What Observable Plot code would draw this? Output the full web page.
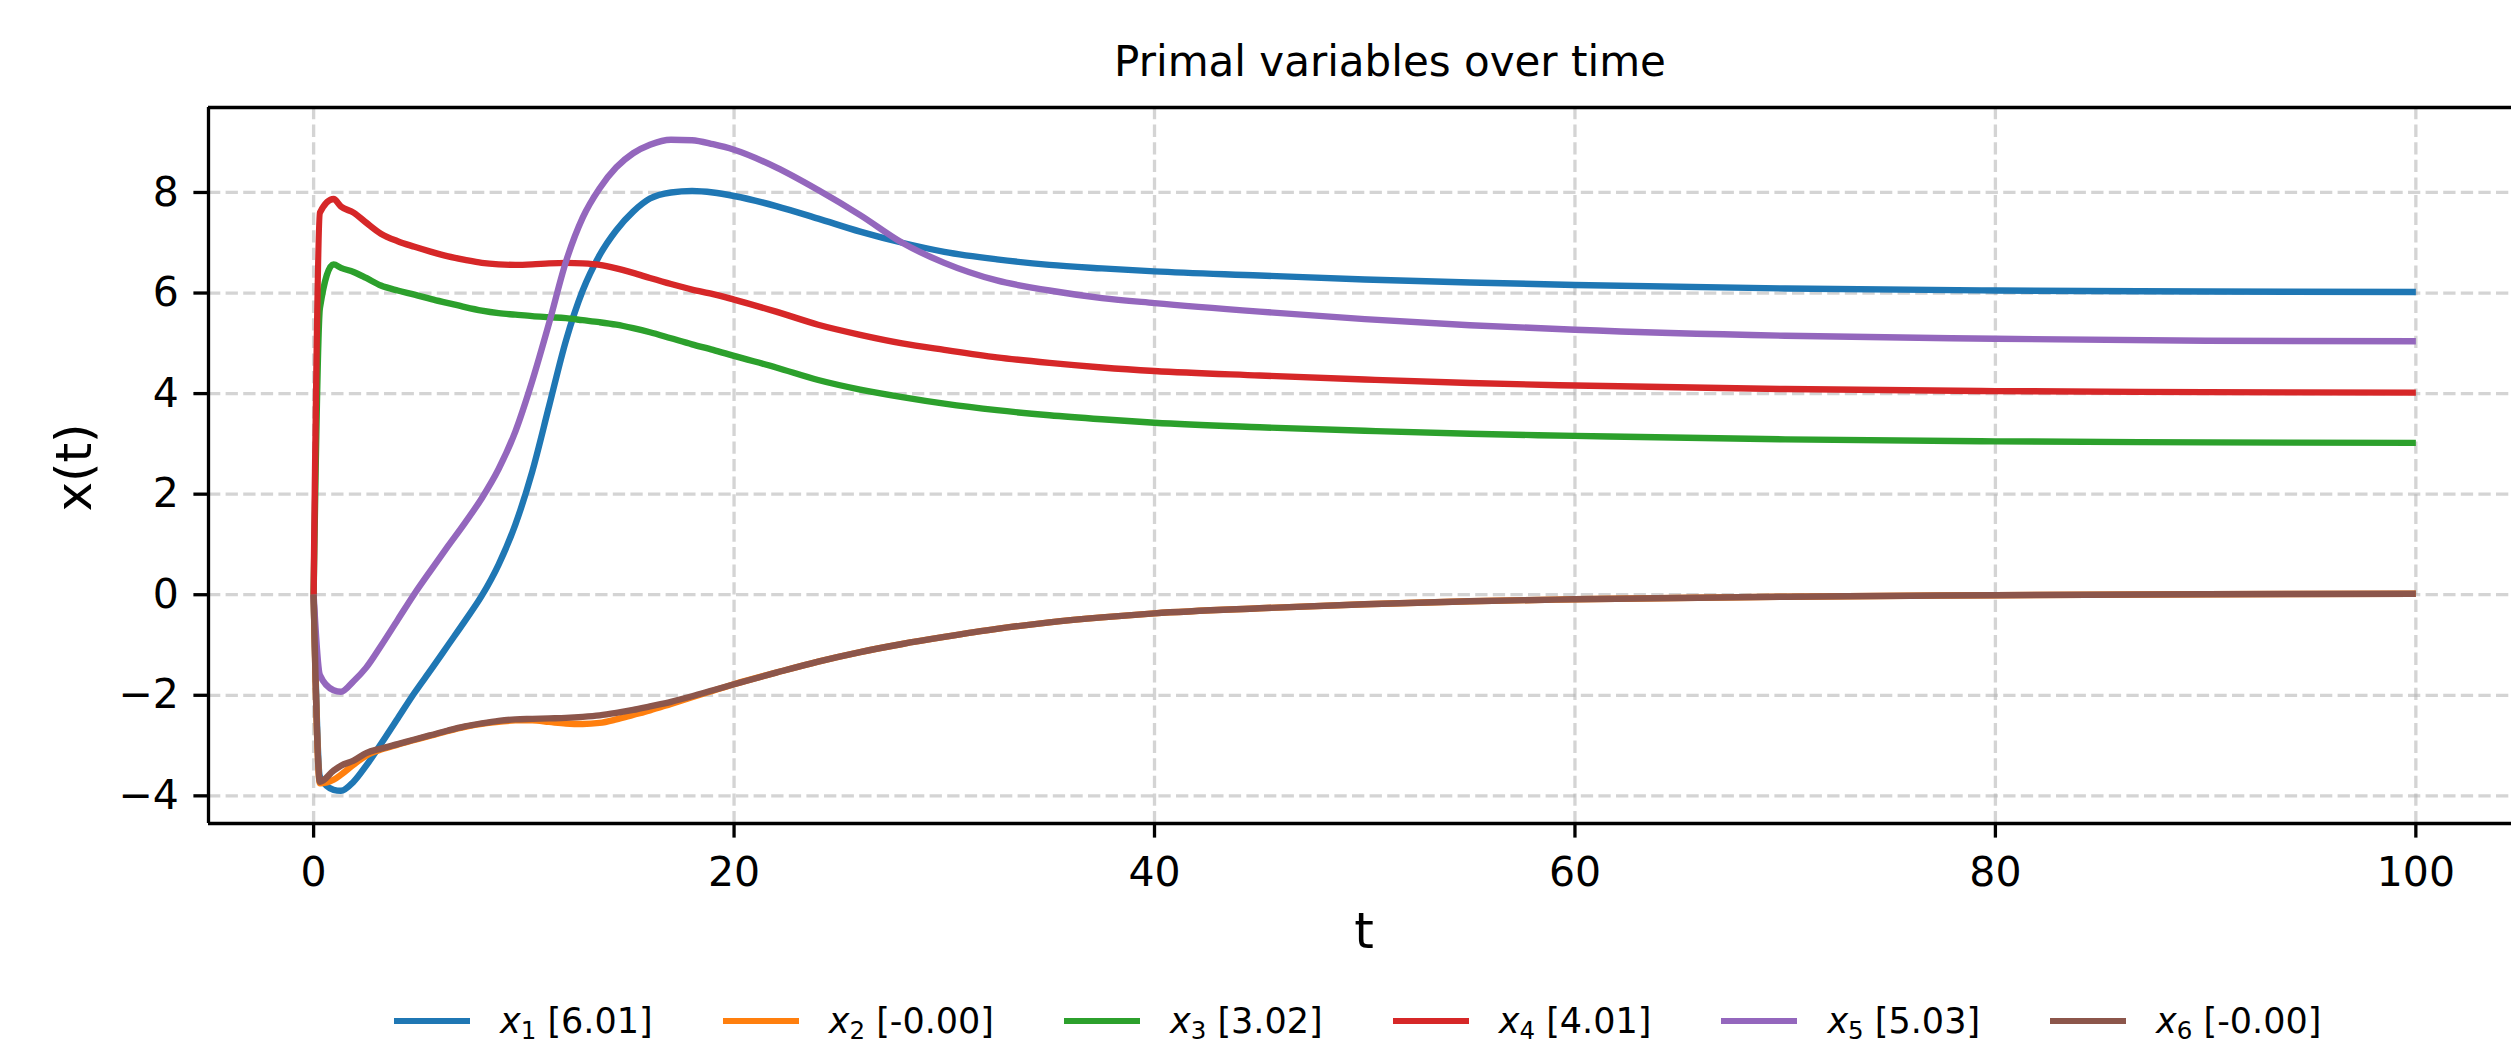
<!DOCTYPE html>
<html>
<head>
<meta charset="utf-8">
<script src="https://cdn.jsdelivr.net/npm/d3@7"></script>
<script src="https://cdn.jsdelivr.net/npm/@observablehq/plot@0.6"></script>
<style>
html, body { margin: 0; padding: 0; background: #fff; }
body { width: 2511px; height: 1052px; overflow: hidden; font-family: "DejaVu Sans", sans-serif; color: #000; }
#title { position: relative; height: 90px; }
#title span { position: absolute; left: 1390px; top: 41px; transform: translateX(-50%); font-size: 42px; line-height: 42px; white-space: nowrap; }
#chart svg { display: block; }
#legend { position: relative; height: 92px; }
#legend .row { position: absolute; left: 394px; top: 36px; height: 50px; display: flex; align-items: center; white-space: nowrap; }
#legend .item { display: flex; align-items: center; margin-right: 70px; }
#legend .handle { width: 76px; height: 6.5px; margin-right: 30px; }
#legend .lab { font-size: 35px; line-height: 1; }
#legend .lab i { font-style: italic; }
#legend .lab sub { font-size: 70%; vertical-align: baseline; position: relative; top: 0.25em; line-height: 0; }
</style>
</head>
<body>
<div id="title"><span>Primal variables over time</span></div>
<div id="chart"></div>
<div id="legend"><div class="row"></div></div>
<script>
// ---- data ----
const times = [0, 0.3, 0.95, 1.3, 1.9, 2.5, 3.2, 4.0, 4.8, 5.6, 6.4, 7.2, 8.0, 8.8, 9.6, 10.4, 11.2, 12.0, 12.8, 13.6, 14.4, 15.2, 16.0, 17, 18, 19, 20, 22, 24, 26, 28, 30, 32.5, 35, 37.5, 40, 45, 50, 55, 60, 70, 80, 90, 100];
const x1 = [0, -3.62, -3.88, -3.9, -3.72, -3.4, -2.97, -2.46, -1.95, -1.48, -1.0, -0.52, -0.02, 0.6, 1.4, 2.45, 3.75, 5.05, 6.05, 6.75, 7.25, 7.62, 7.88, 8.0, 8.03, 8.0, 7.93, 7.73, 7.48, 7.22, 7.0, 6.82, 6.67, 6.56, 6.49, 6.43, 6.35, 6.27, 6.21, 6.16, 6.09, 6.05, 6.03, 6.02];
const x2 = [0, -3.75, -3.68, -3.58, -3.38, -3.2, -3.08, -2.98, -2.89, -2.8, -2.71, -2.63, -2.57, -2.53, -2.5, -2.5, -2.53, -2.56, -2.57, -2.55, -2.48, -2.39, -2.3, -2.17, -2.04, -1.91, -1.78, -1.55, -1.33, -1.14, -0.98, -0.84, -0.68, -0.55, -0.45, -0.37, -0.27, -0.19, -0.13, -0.09, -0.04, -0.01, 0.01, 0.02];
const x3 = [0, 5.7, 6.57, 6.5, 6.42, 6.3, 6.15, 6.05, 5.97, 5.88, 5.8, 5.72, 5.65, 5.6, 5.57, 5.54, 5.52, 5.5, 5.46, 5.42, 5.37, 5.3, 5.22, 5.1, 4.98, 4.87, 4.75, 4.52, 4.27, 4.08, 3.93, 3.8, 3.67, 3.57, 3.49, 3.42, 3.33, 3.26, 3.2, 3.16, 3.09, 3.05, 3.03, 3.02];
const x4 = [0, 7.6, 7.87, 7.72, 7.6, 7.4, 7.18, 7.03, 6.92, 6.82, 6.73, 6.66, 6.6, 6.57, 6.56, 6.57, 6.59, 6.6, 6.59, 6.56, 6.49, 6.4, 6.3, 6.18, 6.07, 5.98, 5.87, 5.63, 5.37, 5.17, 5.0, 4.87, 4.72, 4.61, 4.52, 4.45, 4.36, 4.28, 4.21, 4.16, 4.09, 4.05, 4.03, 4.02];
const x5 = [0, -1.6, -1.9, -1.93, -1.72, -1.45, -1.02, -0.5, 0.02, 0.5, 0.97, 1.43, 1.92, 2.5, 3.25, 4.25, 5.4, 6.62, 7.5, 8.08, 8.5, 8.78, 8.95, 9.05, 9.04, 8.96, 8.85, 8.5, 8.05, 7.55, 7.0, 6.6, 6.25, 6.05, 5.9, 5.8, 5.63, 5.48, 5.36, 5.27, 5.15, 5.09, 5.05, 5.04];
const x6 = [0, -3.72, -3.5, -3.4, -3.3, -3.15, -3.06, -2.97, -2.88, -2.79, -2.7, -2.62, -2.56, -2.51, -2.48, -2.47, -2.46, -2.45, -2.43, -2.4, -2.35, -2.29, -2.22, -2.13, -2.02, -1.9, -1.78, -1.55, -1.33, -1.14, -0.98, -0.84, -0.68, -0.55, -0.45, -0.37, -0.27, -0.19, -0.13, -0.09, -0.04, -0.01, 0.01, 0.02];

const seriesNames = ["x1", "x2", "x3", "x4", "x5", "x6"];
const seriesIndex = ["1", "2", "3", "4", "5", "6"];
const finalValues = ["6.01", "-0.00", "3.02", "4.01", "5.03", "-0.00"];
const seriesColors = ["#1f77b4", "#ff7f0e", "#2ca02c", "#d62728", "#9467bd", "#8c564b"];
const xTicks = [0, 20, 40, 60, 80, 100];
const yTicks = [-4, -2, 0, 2, 4, 6, 8];
const xDomain = [-5, 104.55];
const yDomain = [-4.55, 9.69];
const chartTitle = "Primal variables over time";
const xLabel = "t";
const yLabel = "x(t)";

// ---- tidy table ----
const seriesValues = [x1, x2, x3, x4, x5, x6];
const rows = [];
seriesValues.forEach((vals, i) => {
  vals.forEach((v, j) => rows.push({ series: seriesNames[i], t: times[j], v }));
});

document.querySelector("#title span").textContent = chartTitle;

const grid = { stroke: "#b0b0b0", strokeOpacity: 0.55, strokeWidth: 3.3, strokeDasharray: "12.3,5.3" };
const intFormat = d3.format("d");

const chart = Plot.plot({
  width: 2511,
  height: 870,
  marginTop: 17,
  marginBottom: 137,
  marginLeft: 208,
  marginRight: 0,
  style: { fontFamily: "DejaVu Sans", color: "#000", background: "#fff", overflow: "visible" },
  x: { domain: xDomain },
  y: { domain: yDomain },
  color: { domain: seriesNames, range: seriesColors },
  marks: [
    Plot.gridX(xTicks, { ...grid }),
    Plot.gridY(yTicks, { ...grid }),
    Plot.line(rows, {
      x: "t", y: "v", z: "series", stroke: "series",
      strokeWidth: 6.4, curve: "monotone-x", strokeLinejoin: "round", strokeLinecap: "butt"
    }),
    Plot.ruleY([yDomain[0], yDomain[1]], { stroke: "#000", strokeWidth: 3.3 }),
    Plot.ruleX([xDomain[0]], { stroke: "#000", strokeWidth: 3.3 }),
    Plot.axisX(xTicks, { tickSize: 14.6, tickPadding: 18.5, strokeWidth: 3.3, fontSize: 41, label: null, tickFormat: intFormat }),
    Plot.axisY(yTicks, { tickSize: 14.6, tickPadding: 15, strokeWidth: 3.3, fontSize: 41, label: null, tickFormat: intFormat }),
    Plot.text([xLabel], { text: d => d, frameAnchor: "bottom", dy: 108, dx: 4, fontSize: 50, lineAnchor: "middle", textAnchor: "middle" }),
    Plot.text([yLabel], { text: d => d, frameAnchor: "left", rotate: -90, dx: -134, dy: 2, fontSize: 50, lineAnchor: "middle", textAnchor: "middle" })
  ]
});
document.getElementById("chart").appendChild(chart);

// ---- legend ----
const row = document.querySelector("#legend .row");
seriesNames.forEach((name, i) => {
  const item = document.createElement("div");
  item.className = "item";
  const h = document.createElement("span");
  h.className = "handle";
  h.style.background = seriesColors[i];
  const lab = document.createElement("span");
  lab.className = "lab";
  lab.innerHTML = `<i>x</i><sub>${seriesIndex[i]}</sub> [${finalValues[i]}]`;
  item.appendChild(h);
  item.appendChild(lab);
  row.appendChild(item);
});
</script>
</body>
</html>
